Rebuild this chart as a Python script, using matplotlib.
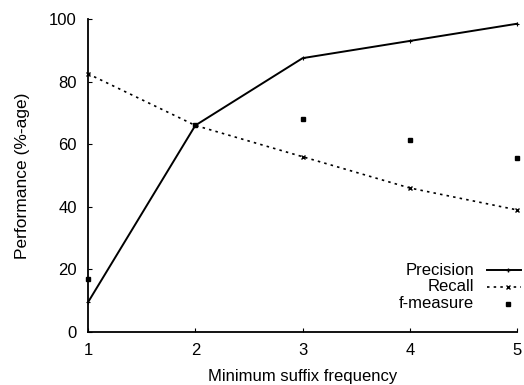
import matplotlib
matplotlib.use("Agg")
import matplotlib.pyplot as plt
from matplotlib.lines import Line2D

plt.rcParams['font.family'] = ['Liberation Sans', 'DejaVu Sans']

min_freq = [1, 2, 3, 4, 5]
precision = [9.5, 66, 87.5, 93, 98.5]
recall = [82.5, 66, 56, 46, 39]
f_measure = [17, 66, 68, 61.5, 55.5]
labels = ["Precision", "Recall", "f-measure"]

fig = plt.figure(figsize=(5.24, 3.85), dpi=100)
ax = fig.add_axes([0.168, 0.1377, 0.819, 0.8129])

ax.plot(min_freq, precision, color='black', lw=1.4, marker='+', ms=3, mew=0.8, clip_on=False)
ax.plot(min_freq, recall, color='black', lw=1.2, ls=(0, (1.5, 2.5)), marker='x', ms=3, mew=1.0, clip_on=False)
ax.plot(min_freq, f_measure, color='black', lw=0, marker='s', ms=3, clip_on=False)

ax.set_xlim(1, 5)
ax.set_ylim(0, 100)
ax.set_xticks(min_freq)
ax.set_yticks([0, 20, 40, 60, 80, 100])
ax.spines['top'].set_visible(False)
ax.spines['right'].set_visible(False)
ax.spines['left'].set_linewidth(1.3)
ax.spines['bottom'].set_linewidth(1.3)
ax.tick_params(direction='in', length=3, width=0.8, labelsize=12, pad=8)
ax.set_xlabel("Minimum suffix frequency", fontsize=12, labelpad=8)
ax.set_ylabel("Performance (%-age)", fontsize=12.5, labelpad=14)

# gnuplot-style legend: right-aligned text, sample on the right
styles = [dict(ls='-', lw=1.4, marker='+', ms=3),
          dict(ls=(0, (1.5, 2.5)), lw=1.2, marker='x', ms=3),
          dict(ls='none', lw=0, marker='s', ms=2.5)]
ys = [0.198, 0.144, 0.090]
for lab, st, yy in zip(labels, styles, ys):
    ax.text(0.90, yy, lab, transform=ax.transAxes, ha='right', va='center', fontsize=12)
    if st['ls'] == 'none':
        ax.add_line(Line2D([0.979], [yy], transform=ax.transAxes, color='black',
                           ls='none', marker=st['marker'], ms=st['ms'], clip_on=False))
    else:
        ax.add_line(Line2D([0.93, 1.01], [yy, yy], transform=ax.transAxes, color='black',
                           ls=st['ls'], lw=st['lw'], clip_on=False))
        ax.add_line(Line2D([0.979], [yy], transform=ax.transAxes, color='black',
                           ls='none', marker=st['marker'], ms=st['ms'], clip_on=False))

fig.savefig("out.png", dpi=100)
